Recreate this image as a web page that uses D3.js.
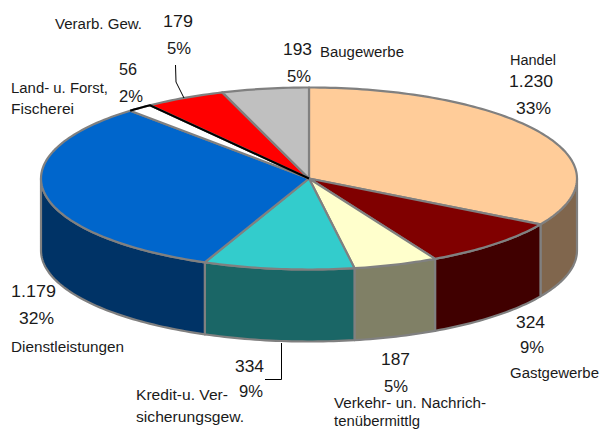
<!DOCTYPE html>
<html>
<head>
<meta charset="utf-8">
<style>
html,body{margin:0;padding:0;background:#fff;overflow:hidden}
svg{display:block}
text{font-family:"Liberation Sans",Arial,sans-serif;fill:#1a1a1a}
</style>
<script src="https://cdnjs.cloudflare.com/ajax/libs/d3/7.8.5/d3.min.js"></script>
</head>
<body>
<svg id="c" width="600" height="430"></svg>
<script>
const categories = ["Handel","Gastgewerbe","Verkehr- un. Nachrichtenübermittlg","Kredit-u. Versicherungsgew.","Dienstleistungen","Land- u. Forst, Fischerei","Verarb. Gew.","Baugewerbe"];
const values = [1230,324,187,334,1179,56,179,193];
const topColors = ["#FFCC99","#800000","#FFFFCC","#33CCCC","#0066CC","#FFFFFF","#FF0000","#C0C0C0"];
const sideColors = ["#80664D","#400000","#808066","#1A6666","#003366","#808080","#800000","#606060"];

// text: [string, x, baseline, width, size]
const valueLayout = [
  [509,87,44, 516,114,35],
  [516,328,29, 520,353,24],
  [381,365,29, 384,392,24],
  [235,372,29, 239,397,24],
  [11,297,45, 19,324,35],
  [119,75,18, 119,102,24],
  [163,27,30, 167,54,24],
  [283,55,29, 287,82,24]
];
const nameLines = [
  ["Handel",510,65,46],
  ["Gastgewerbe",510,378,89],
  ["Verkehr- un. Nachrich-",334,408,152],
  ["tenübermittlg",334,426,86],
  ["Kredit-u. Ver-",136,400,92],
  ["sicherungsgew.",136,422,108],
  ["Dienstleistungen",11,352,113],
  ["Land- u. Forst,",11,93,97],
  ["Fischerei",11,114,63],
  ["Verarb. Gew.",55,29,87],
  ["Baugewerbe",320,57,84]
];
const leaders = [
  [[175.5,65],[176,82],[184,98]],
  [[281.5,343],[281.5,379.5],[265,379.5]]
];

const svg = d3.select("#c");
const x = d3.scaleLinear().domain([-1,1]).range([41,577]);
const y = d3.scaleLinear().domain([-1,1]).range([87.5,269.5]);
const depth = 72;
const total = d3.sum(values);
const arcs = d3.pie().sort(null).startAngle(0).endAngle(2*Math.PI)(values);
const ptX = a => x(Math.sin(a));
const ptY = a => y(-Math.cos(a));
const line = d3.line();
const samples = (a0,a1) => {
  const n = Math.max(2, Math.ceil((a1-a0)/0.02));
  return d3.range(n+1).map(i => a0+(a1-a0)*i/n);
};
const EDGE = "#808080";

// walls: only the front half of the ellipse is visible
const lo = Math.PI/2, hi = 3*Math.PI/2;
arcs.forEach((d,i)=>{
  const a0 = Math.max(d.startAngle,lo), a1 = Math.min(d.endAngle,hi);
  if (a1<=a0) return;
  const s = samples(a0,a1);
  const pts = s.map(a=>[ptX(a),ptY(a)]).concat(s.slice().reverse().map(a=>[ptX(a),ptY(a)+depth]));
  svg.append("path").attr("d",line(pts)+"Z").attr("fill",sideColors[i])
    .attr("stroke",EDGE).attr("stroke-width",2.2).attr("stroke-linejoin","round");
});

// top faces
arcs.forEach((d,i)=>{
  const pts = [[x(0),y(0)]].concat(samples(d.startAngle,d.endAngle).map(a=>[ptX(a),ptY(a)]));
  svg.append("path").attr("d",line(pts)+"Z").attr("fill",topColors[i])
    .attr("stroke",EDGE).attr("stroke-width",2.2).attr("stroke-linejoin","round");
});

// black outline on the white slice, rim and shared edge with the red one
const land = arcs[5];
const landPts = samples(land.startAngle,land.endAngle).map(a=>[ptX(a),ptY(a)]).concat([[x(0),y(0)]]);
svg.append("path").attr("d",line(landPts)).attr("fill","none").attr("stroke","#000").attr("stroke-width",2);

leaders.forEach(p=>svg.append("path").attr("d",line(p)).attr("fill","none").attr("stroke","#000").attr("stroke-width",1));

function put(str,tx,ty,w,size){
  svg.append("text").attr("x",tx).attr("y",ty).attr("font-size",size)
    .attr("textLength",w).attr("lengthAdjust","spacingAndGlyphs").text(str);
}
const fmt = d3.formatLocale({decimal:",",thousands:".",grouping:[3],currency:["","€"]}).format(",d");
arcs.forEach((d,i)=>{
  const L = valueLayout[i];
  put(fmt(values[i]),L[0],L[1],L[2],16);
  put(Math.round(values[i]/total*100)+"%",L[3],L[4],L[5],16);
});
nameLines.forEach(n=>put(n[0],n[1],n[2],n[3],14));
</script>
</body>
</html>
